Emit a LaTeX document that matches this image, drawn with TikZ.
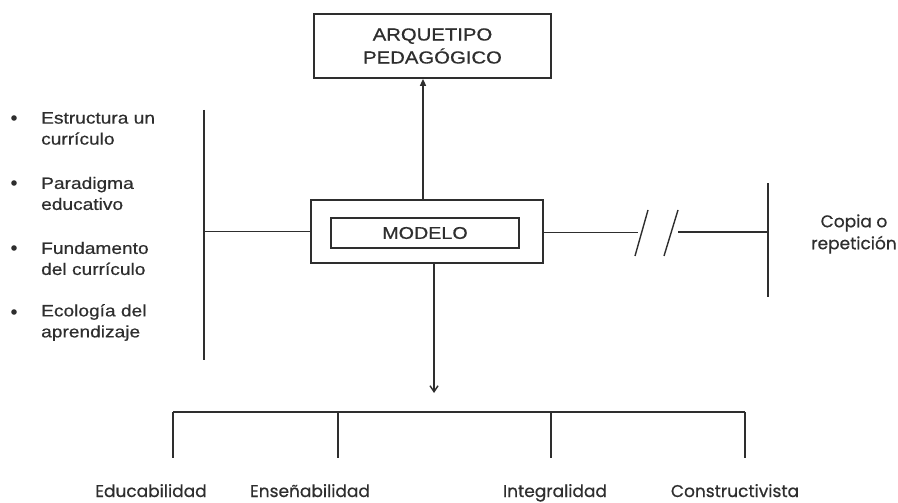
\documentclass[tikz,border=0pt]{standalone}
\usepackage{fontspec}
\setmainfont{Liberation Sans}
\newfontfamily\arialx{Liberation Sans}[FakeStretch=1.16,FakeBold=0.5]
\newfontfamily\gothic{Poppins}[FakeBold=0.6]
\usetikzlibrary{calc,arrows.meta}
\definecolor{ink}{HTML}{2E2E2E}
\tikzset{
  box/.style={draw=ink, line width=1.7pt, rectangle, inner sep=0pt},
  conn/.style={draw=ink, line width=1.4pt},
  thin/.style={draw=ink, line width=1pt},
  arr/.style={conn, -{Triangle[length=7pt,width=6pt]}},
  darr/.style={conn, -{Straight Barb[length=6pt,width=8pt]}},
  item/.style={anchor=west, align=left, text=ink, inner sep=0pt,
    font=\arialx\fontsize{16.5}{21}\selectfont},
  lab/.style={text=ink, inner sep=0pt, font=\gothic\fontsize{17}{22}\selectfont},
  blab/.style={lab, anchor=base},
}
\begin{document}
\begin{tikzpicture}[x=1pt,y=-1pt]
\useasboundingbox[fill=white] (0,0) rectangle (898,503);
% boxes
\node[box, minimum width=237pt, minimum height=64pt, align=center, text=ink,
  font=\arialx\fontsize{17.5}{23}\selectfont] (arq) at (432.5,46) {ARQUETIPO\\PEDAGÓGICO};
\node[box, minimum width=232pt, minimum height=63pt] (outer) at (427,231.5) {};
\node[box, line width=1.5pt, minimum width=188pt, minimum height=30pt, text=ink,
  font=\arialx\fontsize{17}{21}\selectfont] (inner) at (425,233) {MODELO};
% up arrow
\draw[arr] ($(outer.north)+(-4,0)$) -- ($(outer.north|-arq.south)+(-4,0)$);
% left
\coordinate (lt) at (204,110);
\coordinate (lb) at (204,360);
\draw[conn] (lt) -- (lb);
\draw[thin] (outer.west) -- (outer.west -| lt);
\fill[ink] (14,118) circle (2.8pt);
\fill[ink] (14,183) circle (2.8pt);
\fill[ink] (14,248) circle (2.8pt);
\fill[ink] (14,312) circle (2.8pt);
\node[item] (i1) at (41,128.5) {Estructura un\\currículo};
\node[item] (i2) at (41,193.5) {Paradigma\\educativo};
\node[item] (i3) at (41,258.5) {Fundamento\\del currículo};
\node[item] (i4) at (41,322.5) {Ecología del\\aprendizaje};
% right
\coordinate (r1) at (638,232);
\coordinate (s1a) at (635,256);
\coordinate (s1b) at (648,210);
\coordinate (s2a) at (664,256);
\coordinate (s2b) at (678,210);
\coordinate (r2) at (678,232);
\coordinate (rt) at (768,183);
\coordinate (rb) at (768,297);
\draw[thin] (outer.east |- r1) -- (r1);
\draw[conn] (s1a) -- (s1b);
\draw[conn] (s2a) -- (s2b);
\draw[conn] (r2) -- (r2 -| rt);
\draw[conn] (rt) -- (rb);
\node[lab, align=center] (copia) at (854,234) {Copia o\\repetición};
% down
\coordinate (dtip) at (434,393);
\draw[darr] (outer.south -| dtip) -- (dtip);
\coordinate (b1) at (173,412);
\coordinate (b2) at (338,412);
\coordinate (b3) at (551,412);
\coordinate (b4) at (745,412);
\draw[conn] (b1) -- (b4);
\draw[conn] (b1) -- ++(0,46);
\draw[conn] (b2) -- ++(0,46);
\draw[conn] (b3) -- ++(0,46);
\draw[conn] (b4) -- ++(0,46);
\node[blab] (l1) at (151,497) {Educabilidad};
\node[blab] (l2) at (310,497) {Enseñabilidad};
\node[blab] (l3) at (555,497) {Integralidad};
\node[blab] (l4) at (735,497) {Constructivista};
\end{tikzpicture}
\end{document}
